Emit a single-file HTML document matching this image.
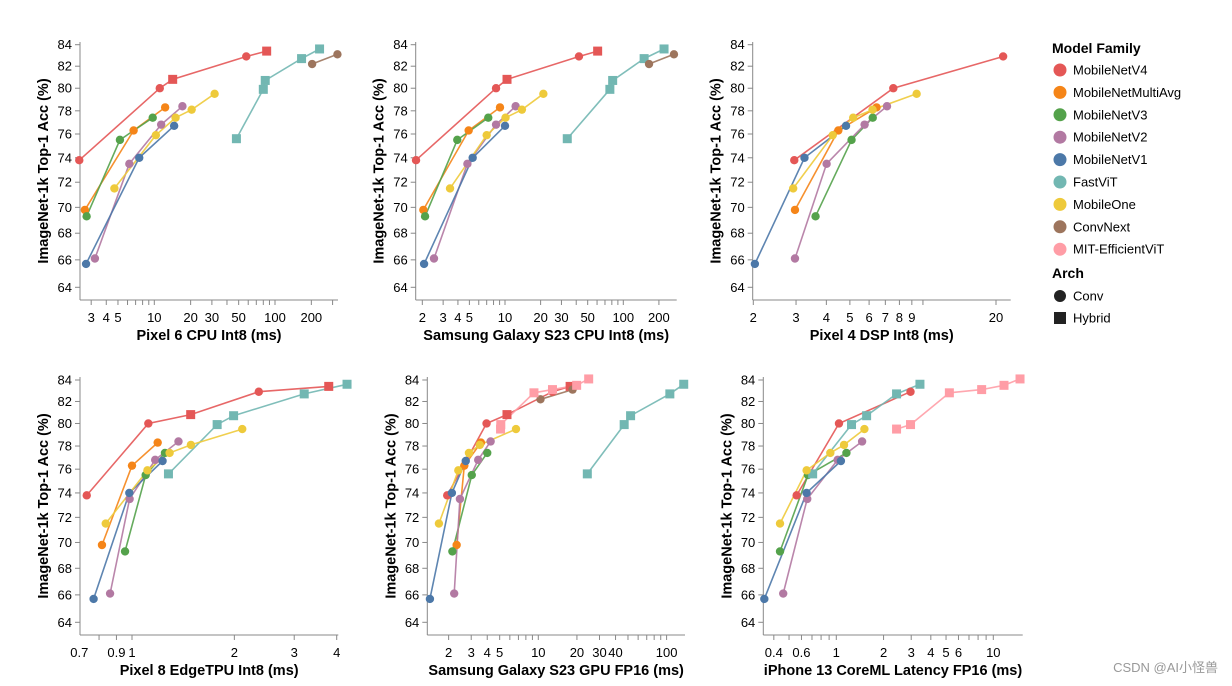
<!DOCTYPE html>
<html><head><meta charset="utf-8"><style>
body{margin:0;background:#fff;}
svg{display:block;font-family:"Liberation Sans",Arial,sans-serif;}
</style></head><body>
<svg id="chart" width="1232" height="686" viewBox="0 0 1232 686"></svg>
<script>
const families=["MobileNetV4","MobileNetMultiAvg","MobileNetV3","MobileNetV2","MobileNetV1","FastViT","MobileOne","ConvNext","MIT-EfficientViT"];
const colors=["#e45756","#f58518","#54a24b","#b279a2","#4c78a8","#72b7b2","#eeca3b","#9d755d","#ff9da6"];
const yTicks=[64,66,68,70,72,74,76,78,80,82,84];

// Panel 1: Pixel 6 CPU Int8
const p1Lat=[[2.39,11.1,14.2,57.8,85.3],[2.66,6.74,12.3],[2.75,5.19,9.7],[3.22,6.21,11.4,17.1],[2.72,7.5,14.6],[47.9,80,83,166,234],[4.67,10.3,15.0,20.4,31.6],[203,329],[]];
const p1Acc=[[73.8,80.0,80.8,82.9,83.4],[69.8,76.3,78.3],[69.3,75.5,77.4],[66.1,73.5,76.8,78.4],[65.7,74.0,76.7],[75.6,79.9,80.7,82.7,83.6],[71.5,75.9,77.4,78.1,79.5],[82.2,83.1],[]];
const p1V4Hybrid=[0,0,1,0,1];
const p1XLabels=[3,4,5,10,20,30,50,100,200];
// Panel 2: Samsung Galaxy S23 CPU Int8
const p2Lat=[[1.77,8.4,10.4,42.2,60.7],[2.04,4.93,9.07],[2.11,3.95,7.22],[2.51,4.81,8.4,12.3],[2.07,5.33,10],[33.6,77,81.3,150,221],[3.43,7.0,10.1,13.9,21.1],[165,268],[]];
const p2Acc=[[73.8,80.0,80.8,82.9,83.4],[69.8,76.3,78.3],[69.3,75.5,77.4],[66.1,73.5,76.8,78.4],[65.7,74.0,76.7],[75.6,79.9,80.7,82.7,83.6],[71.5,75.9,77.4,78.1,79.5],[82.2,83.1],[]];
const p2V4Hybrid=[0,0,1,0,1];
const p2XLabels=[2,3,4,5,10,20,30,50,100,200];
// Panel 3: Pixel 4 DSP Int8
const p3Lat=[[2.95,7.55,21.4],[2.97,4.48,6.44],[3.61,5.08,6.21],[2.97,4.01,5.75,7.11],[2.03,3.25,4.82],[],[2.92,4.25,5.16,6.2,9.42],[],[]];
const p3Acc=[[73.8,80.0,82.9],[69.8,76.3,78.3],[69.3,75.5,77.4],[66.1,73.5,76.8,78.4],[65.7,74.0,76.7],[],[71.5,75.9,77.4,78.1,79.5],[],[]];
const p3V4Hybrid=[0,0,0];
const p3XLabels=[2,3,4,5,6,7,8,9,20];
// Panel 4: Pixel 8 EdgeTPU Int8
const p4Lat=[[0.736,1.117,1.488,2.36,3.79],[0.816,1.0,1.19],[0.954,1.097,1.25],[0.862,0.984,1.17,1.37],[0.771,0.982,1.23],[1.28,1.78,1.99,3.21,4.29],[0.837,1.11,1.29,1.49,2.11],[],[]];
const p4Acc=[[73.8,80.0,80.8,82.9,83.4],[69.8,76.3,78.3],[69.3,75.5,77.4],[66.1,73.5,76.8,78.4],[65.7,74.0,76.7],[75.6,79.9,80.7,82.7,83.6],[71.5,75.9,77.4,78.1,79.5],[],[]];
const p4V4Hybrid=[0,0,1,0,1];
const p4XLabels=[0.7,0.9,1,2,3,4];
// Panel 5: Samsung Galaxy S23 GPU FP16
const p5Lat=[[1.95,3.95,5.7,12.9,17.7],[2.31,2.65,3.57],[2.14,3.03,4.0],[2.21,2.45,3.4,4.25],[1.43,2.12,2.72],[24.1,46.7,52.4,106,136],[1.68,2.38,2.88,3.5,6.7],[10.4,18.5],[5.08,5.1,9.25,12.9,19.9,24.7]];
const p5Acc=[[73.8,80.0,80.8,82.9,83.4],[69.8,76.3,78.3],[69.3,75.5,77.4],[66.1,73.5,76.8,78.4],[65.7,74.0,76.7],[75.6,79.9,80.7,82.7,83.6],[71.5,75.9,77.4,78.1,79.5],[82.2,83.1],[79.5,79.9,82.8,83.1,83.5,84.1]];
const p5V4Hybrid=[0,0,1,0,1];
const p5XLabels=[2,3,4,5,10,20,30,40,100];
// Panel 6: iPhone 13 CoreML Latency FP16
const p6Lat=[[0.559,1.04,2.97],[],[0.438,0.66,1.16],[0.459,0.653,1.02,1.46],[0.348,0.647,1.07],[0.707,1.25,1.56,2.42,3.41],[0.438,0.647,0.916,1.12,1.51],[],[2.42,2.97,5.25,8.43,11.7,14.8]];
const p6Acc=[[73.8,80.0,82.9],[],[69.3,75.5,77.4],[66.1,73.5,76.8,78.4],[65.7,74.0,76.7],[75.6,79.9,80.7,82.7,83.6],[71.5,75.9,77.4,78.1,79.5],[],[79.5,79.9,82.8,83.1,83.5,84.1]];
const p6V4Hybrid=[0,0,0];
const p6XLabels=[0.4,0.6,1,2,3,4,5,6,10];

const NS="http://www.w3.org/2000/svg";
const svg=document.getElementById('chart');
function mk(tag,attrs,parent){const e=document.createElementNS(NS,tag);for(const k in attrs)e.setAttribute(k,attrs[k]);(parent||svg).appendChild(e);return e;}

const panels=[
 {id:"pixel6-cpu",title:"Pixel 6 CPU Int8 (ms)",lat:p1Lat,acc:p1Acc,hyb:p1V4Hybrid,labels:p1XLabels,ref:10,refPx:154.3,dec:120.7,ax0:80,ax1:338,row:0},
 {id:"s23-cpu",title:"Samsung Galaxy S23 CPU Int8 (ms)",lat:p2Lat,acc:p2Acc,hyb:p2V4Hybrid,labels:p2XLabels,ref:10,refPx:505,dec:118.3,ax0:415.7,ax1:676.7,row:0},
 {id:"pixel4-dsp",title:"Pixel 4 DSP Int8 (ms)",lat:p3Lat,acc:p3Acc,hyb:p3V4Hybrid,labels:p3XLabels,ref:2,refPx:753.3,dec:242.7,ax0:752.7,ax1:1010.7,row:0},
 {id:"pixel8-edgetpu",title:"Pixel 8 EdgeTPU Int8 (ms)",lat:p4Lat,acc:p4Acc,hyb:p4V4Hybrid,labels:p4XLabels,ref:1,refPx:132,dec:340,ax0:80,ax1:338.3,row:1},
 {id:"s23-gpu",title:"Samsung Galaxy S23 GPU FP16 (ms)",lat:p5Lat,acc:p5Acc,hyb:p5V4Hybrid,labels:p5XLabels,ref:10,refPx:538.3,dec:128.3,ax0:427.3,ax1:685,row:1},
 {id:"iphone13-coreml",title:"iPhone 13 CoreML Latency FP16 (ms)",lat:p6Lat,acc:p6Acc,hyb:p6V4Hybrid,labels:p6XLabels,ref:1,refPx:836.3,dec:157,ax0:763.3,ax1:1022.7,row:1}
];
const rows=[{y84:44.7,y64:287.3,top:42,bot:300},{y84:380,y64:622.3,top:377,bot:635}];

panels.forEach(p=>{
  const r=rows[p.row];
  const xs=v=>p.refPx+p.dec*Math.log10(v/p.ref);
  const ys=v=>r.y84+(Math.log(84)-Math.log(v))/(Math.log(84)-Math.log(64))*(r.y64-r.y84);
  const g=mk('g',{});
  
  
  // y axis
  const ya=mk('line',{x1:p.ax0,y1:r.top,x2:p.ax0,y2:r.bot,stroke:'#888','stroke-width':1},g);
  
  
  yTicks.forEach(t=>{
    const y=ys(t);
    mk('line',{x1:p.ax0-5,y1:y,x2:p.ax0,y2:y,stroke:'#888'},g);
    const tx=mk('text',{x:p.ax0-8,y:y+4.5,'text-anchor':'end','font-size':13,fill:'#000'},g);
    tx.textContent=t;
    
    
  });
  // x axis
  const xa=mk('line',{x1:p.ax0,y1:r.bot,x2:p.ax1,y2:r.bot,stroke:'#888'},g);
  
  
  for(let k=-2;k<=3;k++){for(let m=1;m<=9;m++){const v=m*Math.pow(10,k);const x=xs(v);
    if(x>=p.ax0-0.5&&x<=p.ax1+0.5) mk('line',{x1:x,y1:r.bot,x2:x,y2:r.bot+5,stroke:'#888'},g);}}
  p.labels.forEach(t=>{
    const tx=mk('text',{x:xs(t),y:r.bot+22,'text-anchor':'middle','font-size':13,fill:'#000'},g);
    tx.textContent=t;
    
    
  });
  const xt=mk('text',{x:(p.ax0+p.ax1)/2,y:r.bot+40,'text-anchor':'middle','font-size':14.5,'font-weight':'bold',fill:'#000'},g);
  xt.textContent=p.title;
  
  
  const cy=(r.top+r.bot)/2, cx=p.ax0-37;
  const yt=mk('text',{x:cx,y:cy,'text-anchor':'middle','font-size':14.5,'font-weight':'bold',fill:'#000',transform:`rotate(-90 ${cx} ${cy})`,dy:5},g);
  yt.textContent="ImageNet-1k Top-1 Acc (%)";
  
  
  // series
  families.forEach((f,i)=>{
    const L=p.lat[i],A=p.acc[i];
    if(!L.length)return;
    const pts=L.map((v,j)=>xs(v).toFixed(1)+','+ys(A[j]).toFixed(1)).join(' ');
    const pl=mk('polyline',{points:pts,fill:'none',stroke:colors[i],'stroke-width':1.6,'stroke-opacity':0.9},g);
    
    
  });
  families.forEach((f,i)=>{
    const L=p.lat[i],A=p.acc[i];
    L.forEach((v,j)=>{
      const x=xs(v),y=ys(A[j]);
      const sq=(i===5||i===8)||(i===0&&p.hyb[j]===1);
      let e;
      if(sq) e=mk('rect',{x:x-4.5,y:y-4.5,width:9,height:9,fill:colors[i]},g);
      else e=mk('circle',{cx:x,cy:y,r:4.2,fill:colors[i]},g);
      
      
    });
  });
});

// legend
const lg=mk('g',{});


const lt=mk('text',{x:1052,y:53,'font-size':14,'font-weight':'bold',fill:'#000'},lg);
lt.textContent="Model Family";


families.forEach((f,i)=>{
  const y=70+i*22.4;
  const c=mk('circle',{cx:1060,cy:y,r:6.5,fill:colors[i]},lg);
  
  
  const t=mk('text',{x:1073,y:y+4.5,'font-size':13,fill:'#000'},lg);
  t.textContent=f;
  
  
});
const at=mk('text',{x:1052,y:278,'font-size':14,'font-weight':'bold',fill:'#000'},lg);
at.textContent="Arch";


const c1=mk('circle',{cx:1060,cy:296,r:6,fill:'#222'},lg);


const t1=mk('text',{x:1073,y:300.5,'font-size':13,fill:'#000'},lg);t1.textContent="Conv";


const r2=mk('rect',{x:1054,y:312,width:12,height:12,fill:'#222'},lg);


const t2=mk('text',{x:1073,y:322.5,'font-size':13,fill:'#000'},lg);t2.textContent="Hybrid";


const wm=mk('text',{x:1218,y:672,'text-anchor':'end','font-size':13,fill:'#999','font-family':'"Liberation Sans","Noto Sans CJK SC",sans-serif'});
wm.textContent="CSDN @AI小怪兽";


</script>
</body></html>
